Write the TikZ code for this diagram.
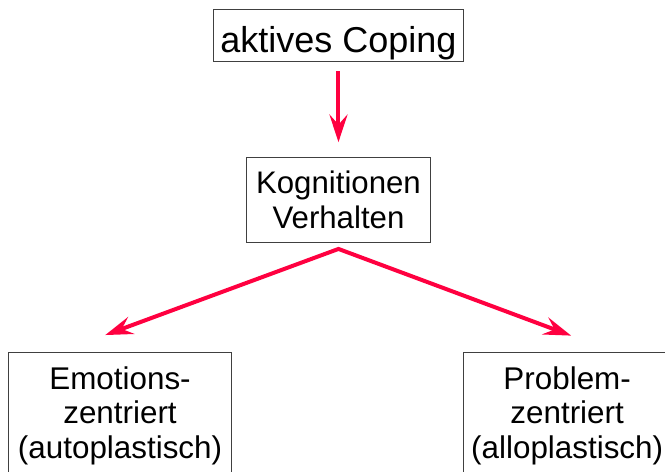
\documentclass[tikz,border=0pt]{standalone}
\usepackage{fontspec}
\setmainfont{Liberation Sans}
\usetikzlibrary{arrows.meta}
\definecolor{pfeilrot}{RGB}{255,0,64}
\begin{document}
\begin{tikzpicture}[
    box/.style={draw=black!75, line width=0.5pt, align=center},
    pfeil/.style={draw=pfeilrot, line width=2pt,
      -{Stealth[length=13.8pt, width=9pt, inset=5pt]}},
    zweipfeil/.style={draw=pfeilrot, line width=2pt,
      {Stealth[length=13.8pt, width=9pt, inset=5pt]}-{Stealth[length=13.8pt, width=9pt, inset=5pt]}}
  ]
  \useasboundingbox (0,0) rectangle (11.69,8.29);
  \node[box, anchor=base, inner xsep=3.5pt, inner ysep=0pt,
        text height=21.65pt, text depth=4.2pt,
        font=\fontsize{18}{20}\selectfont] (AC) at (5.95,7.36) {aktives Coping};
  \node[box, inner sep=0pt, minimum width=3.23cm, minimum height=1.49cm,
        font=\fontsize{15.6}{17.5}\selectfont] (KV) at (5.95,4.78) {Kognitionen\\Verhalten};
  \node[box, anchor=north, inner xsep=0pt, inner ysep=7pt, minimum width=3.91cm,
        font=\fontsize{15.7}{17.2}\selectfont] (EZ) at (2.11,2.10) {Emotions-\\zentriert\\(autoplastisch)};
  \node[box, anchor=north, inner xsep=0pt, inner ysep=7pt, minimum width=3.63cm,
        font=\fontsize{15.7}{17.2}\selectfont] (PZ) at (9.97,2.10) {Problem-\\zentriert\\(alloplastisch)};
  \coordinate (EZtip) at (1.85,2.40);
  \coordinate (PZtip) at (10.04,2.39);
  \draw[pfeil, shorten <=4.7pt, shorten >=7.3pt] (AC) -- (KV);
  \draw[zweipfeil] (EZtip) -- ([yshift=-3.2pt]KV.south) -- (PZtip);
\end{tikzpicture}
\end{document}
